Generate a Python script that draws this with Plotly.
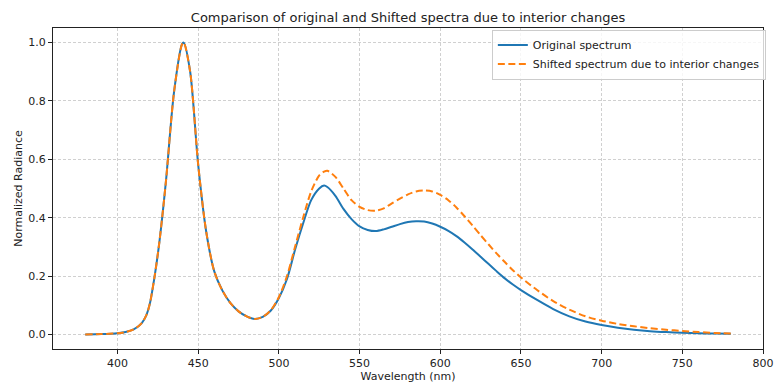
import plotly.graph_objects as go

# Wavelength grid (nm)
wavelength = [380, 390, 400, 405, 410, 415, 418, 420, 423, 426, 430, 435, 440, 441, 445,
              450, 455, 460, 465, 470, 475, 480, 485, 490, 495, 500, 505, 510, 515, 520,
              525, 528, 530, 535, 540, 545, 550, 555, 560, 565, 570, 575, 580, 585, 590,
              595, 600, 605, 610, 615, 620, 625, 630, 635, 640, 645, 650, 660, 670, 680,
              690, 700, 710, 720, 730, 740, 750, 760, 770, 780]

# Normalized radiance of the original spectrum
original = [0.000, 0.001, 0.004, 0.008, 0.017, 0.039, 0.068, 0.105, 0.200, 0.320, 0.525, 0.830,
            0.995, 1.000, 0.900, 0.580, 0.350, 0.215, 0.150, 0.107, 0.079, 0.062, 0.053, 0.060,
            0.082, 0.125, 0.190, 0.290, 0.380, 0.460, 0.500, 0.510, 0.505, 0.475, 0.430, 0.395,
            0.370, 0.358, 0.354, 0.360, 0.369, 0.378, 0.385, 0.388, 0.387, 0.380, 0.369, 0.355,
            0.337, 0.315, 0.291, 0.266, 0.241, 0.216, 0.192, 0.171, 0.152, 0.118, 0.087, 0.062,
            0.044, 0.032, 0.023, 0.016, 0.011, 0.008, 0.006, 0.004, 0.003, 0.002]

# Normalized radiance after the interior changes
shifted = [0.000, 0.001, 0.004, 0.008, 0.017, 0.039, 0.068, 0.105, 0.200, 0.320, 0.525, 0.830,
           0.995, 1.000, 0.900, 0.580, 0.350, 0.215, 0.150, 0.107, 0.079, 0.062, 0.053, 0.060,
           0.083, 0.128, 0.200, 0.300, 0.400, 0.490, 0.545, 0.558, 0.561, 0.540, 0.500, 0.460,
           0.437, 0.426, 0.424, 0.432, 0.449, 0.465, 0.480, 0.490, 0.493, 0.490, 0.478, 0.460,
           0.435, 0.405, 0.373, 0.340, 0.308, 0.277, 0.248, 0.220, 0.195, 0.152, 0.114, 0.085,
           0.062, 0.047, 0.036, 0.028, 0.021, 0.016, 0.012, 0.008, 0.005, 0.003]

x_ticks = [400, 450, 500, 550, 600, 650, 700, 750, 800]
y_ticks = [0.0, 0.2, 0.4, 0.6, 0.8, 1.0]

font = "DejaVu Sans, Liberation Sans, sans-serif"

fig = go.Figure()
fig.add_trace(go.Scatter(
    x=wavelength, y=original, mode="lines", name="Original spectrum",
    line=dict(color="#1f77b4", width=2, shape="spline", smoothing=0.8),
))
fig.add_trace(go.Scatter(
    x=wavelength, y=shifted, mode="lines", name="Shifted spectrum due to interior changes",
    line=dict(color="#ff7f0e", width=2, dash="7px,3.5px", shape="spline", smoothing=0.8),
))

axis_common = dict(
    automargin=False,
    showline=True, linecolor="#222222", linewidth=1, mirror=True,
    ticks="outside", ticklen=4, tickcolor="#222222", tickwidth=1,
    showgrid=True, gridcolor="#d0d0d0", gridwidth=0.8, griddash="3px,2px",
    zeroline=False, ticklabeloverflow="allow",
    tickfont=dict(family=font, size=11, color="#222222"),
)

fig.update_layout(
    width=775, height=383,
    margin=dict(l=53, r=9, t=28, b=34),
    paper_bgcolor="white", plot_bgcolor="white",
    font=dict(family=font, color="#222222"),
    title=dict(
        text="Comparison of original and Shifted spectra due to interior changes",
        x=0.5, xref="paper", xanchor="center", y=0.955, yanchor="middle",
        font=dict(family=font, size=13, color="#222222"),
    ),
    xaxis=dict(
        range=[360, 800], tickvals=x_ticks,
        title=dict(text="Wavelength (nm)", font=dict(family=font, size=11), standoff=4),
        **axis_common,
    ),
    yaxis=dict(
        range=[-0.05, 1.05], tickvals=y_ticks, tickformat=".1f",
        title=dict(text="Normalized Radiance", font=dict(family=font, size=11), standoff=3),
        **axis_common,
    ),
    legend=dict(
        x=1.004, y=0.995, xanchor="right", yanchor="top",
        bgcolor="rgba(255,255,255,0.8)", bordercolor="#cccccc", borderwidth=1,
        font=dict(family=font, size=11, color="#222222"),
        tracegroupgap=0, itemwidth=30,
    ),
    showlegend=True,
)

fig.write_html("out.html")
